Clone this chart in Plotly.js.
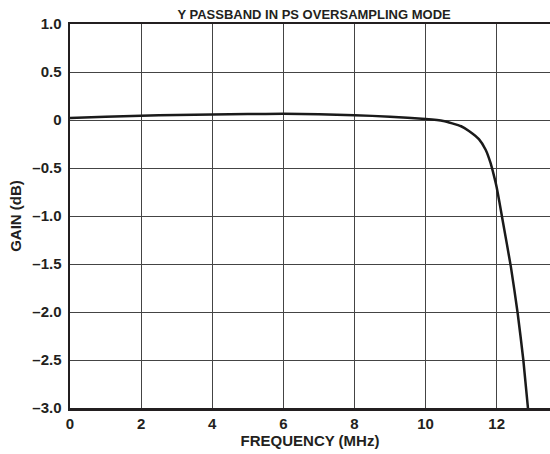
<!DOCTYPE html>
<html>
<head>
<meta charset="utf-8">
<script src="https://cdn.plot.ly/plotly-3.0.1.min.js"></script>
<style>html,body{margin:0;padding:0;background:#fff;}#chart{width:550px;height:454px;}</style>
</head>
<body>
<div id="chart"></div>
<script>
var freqMHz = [0, 1, 2, 3, 4, 5, 6, 7, 8, 9, 10, 10.5, 10.75, 11.0, 11.22, 11.5, 11.69, 11.83, 11.93, 12.0, 12.07, 12.17, 12.4, 12.59, 12.75, 12.88];
var gainDb  = [0.02, 0.035, 0.045, 0.052, 0.058, 0.062, 0.064, 0.06, 0.05, 0.035, 0.01, -0.01, -0.035, -0.065, -0.115, -0.2, -0.31, -0.45, -0.59, -0.7, -0.84, -1.05, -1.53, -2.01, -2.5, -3.0];
var xTickVals = [0, 2, 4, 6, 8, 10, 12];
var xTickText = ["0", "2", "4", "6", "8", "10", "12"];
var yTickVals = [1, 0.5, 0, -0.5, -1, -1.5, -2, -2.5, -3];
var yTickText = ["1.0", "0.5", "0", "\u20130.5", "\u20131.0", "\u20131.5", "\u20132.0", "\u20132.5", "\u20133.0"];

var fontFam = "Liberation Sans, Arial, sans-serif";
var trace = {
  x: freqMHz, y: gainDb, mode: "lines", type: "scatter",
  line: {color: "#1a1a1a", width: 2.5, shape: "spline", smoothing: 0.5},
  hoverinfo: "skip", showlegend: false
};
var layout = {
  width: 550, height: 454,
  margin: {l: 70, r: 0, t: 24, b: 46},
  paper_bgcolor: "#fff", plot_bgcolor: "#fff",
  font: {family: fontFam, color: "#231f20"},
  title: {text: "<b>Y PASSBAND IN PS OVERSAMPLING MODE</b>", font: {size: 13, family: fontFam, color: "#231f20"},
          x: 0.571, xanchor: "center", y: 0.969, yanchor: "middle"},
  xaxis: {
    range: [0, 13.5], tickvals: xTickVals, ticktext: xTickText,
    showgrid: true, gridcolor: "#444", gridwidth: 1,
    showline: true, linecolor: "#231f20", linewidth: 2.5, mirror: true,
    ticks: "", zeroline: false, fixedrange: true,
    tickfont: {size: 15, family: fontFam, weight: "bold", color: "#231f20"},
    title: {text: "<b>FREQUENCY (MHz)</b>", font: {size: 15, family: fontFam, color: "#231f20"}, standoff: 5}
  },
  yaxis: {
    range: [-3, 1], tickvals: yTickVals, ticktext: yTickText,
    showgrid: true, gridcolor: "#444", gridwidth: 1,
    showline: true, linecolor: "#231f20", linewidth: 2.5,
    ticks: "", zeroline: false, fixedrange: true, ticklabelstandoff: 3,
    tickfont: {size: 15, family: fontFam, weight: "bold", color: "#231f20"},
    title: {text: "<b>GAIN (dB)</b>", font: {size: 15, family: fontFam, color: "#231f20"}, standoff: 7}
  }
};
Plotly.newPlot("chart", [trace], layout, {displayModeBar: false, staticPlot: true});
</script>
</body>
</html>
